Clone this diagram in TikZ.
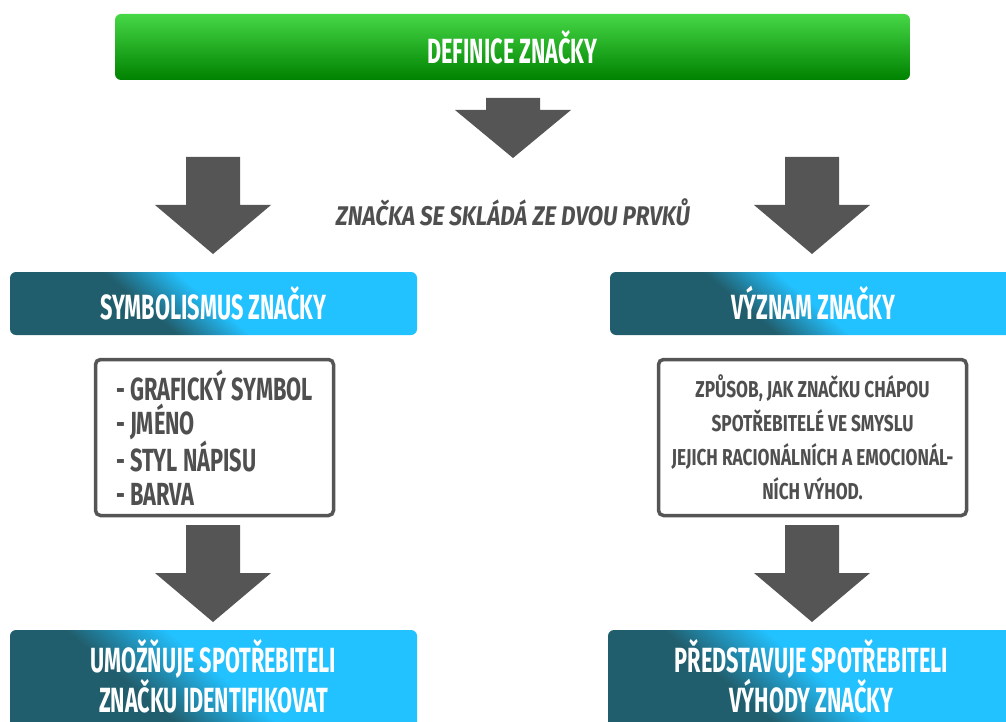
\documentclass[tikz,border=0pt]{standalone}
\usepackage{fontspec}
\newfontfamily\cnd{Fira Sans}[FakeStretch=0.62]
\newfontfamily\cndm{Fira Sans}[FakeStretch=0.68]
\newfontfamily\cndw{Fira Sans}[FakeStretch=0.75]
\newfontfamily\cndi{Fira Sans}[FakeStretch=0.83]
\usetikzlibrary{calc}
\definecolor{bdark}{HTML}{215E6D}
\definecolor{blight}{HTML}{22C1FF}
\definecolor{gtop}{HTML}{46D746}
\definecolor{gbot}{HTML}{008200}
\definecolor{arrowgray}{HTML}{555555}
\definecolor{textgray}{HTML}{4F4F4F}
\pgfdeclarehorizontalshading{bluegradA}{100bp}{color(0bp)=(bdark); color(45.3bp)=(bdark); color(50bp)=(blight); color(100bp)=(blight)}
\pgfdeclarehorizontalshading{bluegradB}{100bp}{color(0bp)=(bdark); color(44.5bp)=(bdark); color(51bp)=(blight); color(100bp)=(blight)}
\newcommand\blkarrow[4]{%
  \fill[arrowgray] (#1-27,#2) -- (#1+27,#2) -- (#1+27,#3) -- (#1+58,#3) -- (#1,#4) -- (#1-58,#3) -- (#1-27,#3) -- cycle;}
\begin{document}
\begin{tikzpicture}[x=1pt,y=-1pt,
  greenbox/.style={rounded corners=6pt, minimum width=795pt, minimum height=66pt, top color=gtop, bottom color=gbot, text=white, font=\cnd\bfseries\fontsize{35}{34}\selectfont, inner sep=0pt},
  bluebox/.style={rounded corners=6pt, minimum width=407pt, minimum height=63pt, text=white, align=center, inner sep=0pt,
     font=\cnd\bfseries\fontsize{35}{30}\selectfont,
     path picture={\shade[shading=#1, shading angle=50] ($(path picture bounding box.center)+(-250,-250)$) rectangle ++(500,500);}},
  bluebox/.default=bluegradA,
  bluetext/.style={text=white, align=center, font=\cnd\bfseries\fontsize{35}{30}\selectfont},
  graybox/.style={draw=arrowgray, line width=3.5pt, rounded corners=5pt, fill=white, minimum height=156pt, text=textgray, inner sep=0pt},
]
\useasboundingbox (0,0) rectangle (1006,722);
\node[greenbox] (def) at (512.5,47) {DEFINICE ZNAČKY};
\blkarrow{513}{98}{110}{158}
\node[font=\cndi\bfseries\itshape\fontsize{27}{30}\selectfont, text=textgray] (sub) at (513,212) {ZNAČKA SE SKLÁDÁ ZE DVOU PRVKŮ};
\blkarrow{213}{157}{205}{254}
\blkarrow{812}{157}{205}{254}
\node[bluebox] (sym) at (213.5,303.5) {SYMBOLISMUS ZNAČKY};
\node[bluebox] (vyz) at (813.5,303.5) {VÝZNAM ZNAČKY};
\node[graybox, minimum width=238pt, align=left, font=\cndm\bfseries\fontsize{32}{33.7}\selectfont] (symlist) at (214.5,437.5) {- GRAFICKÝ SYMBOL\\- JMÉNO\\- STYL NÁPISU\\- BARVA};
\node[graybox, minimum width=308pt, align=center, font=\cndw\bfseries\fontsize{23}{34}\selectfont] (vyztext) at (812.5,437.5) {ZPŮSOB, JAK ZNAČKU CHÁPOU\\SPOTŘEBITELÉ VE SMYSLU\\JEJICH RACIONÁLNÍCH A EMOCIONÁL-\\NÍCH VÝHOD.};
\blkarrow{213}{525}{573}{622}
\blkarrow{812}{525}{573}{622}
\node[bluebox=bluegradB, minimum height=105pt] (ident) at (213.5,682.5) {};
\node[bluetext] (identt) at (213.5,676) {UMOŽŇUJE SPOTŘEBITELI\\ZNAČKU IDENTIFIKOVAT};
\node[bluebox=bluegradB, minimum height=105pt] (pred) at (811.5,682.5) {};
\node[bluetext] (predt) at (811.5,676) {PŘEDSTAVUJE SPOTŘEBITELI\\VÝHODY ZNAČKY};
\end{tikzpicture}
\end{document}
